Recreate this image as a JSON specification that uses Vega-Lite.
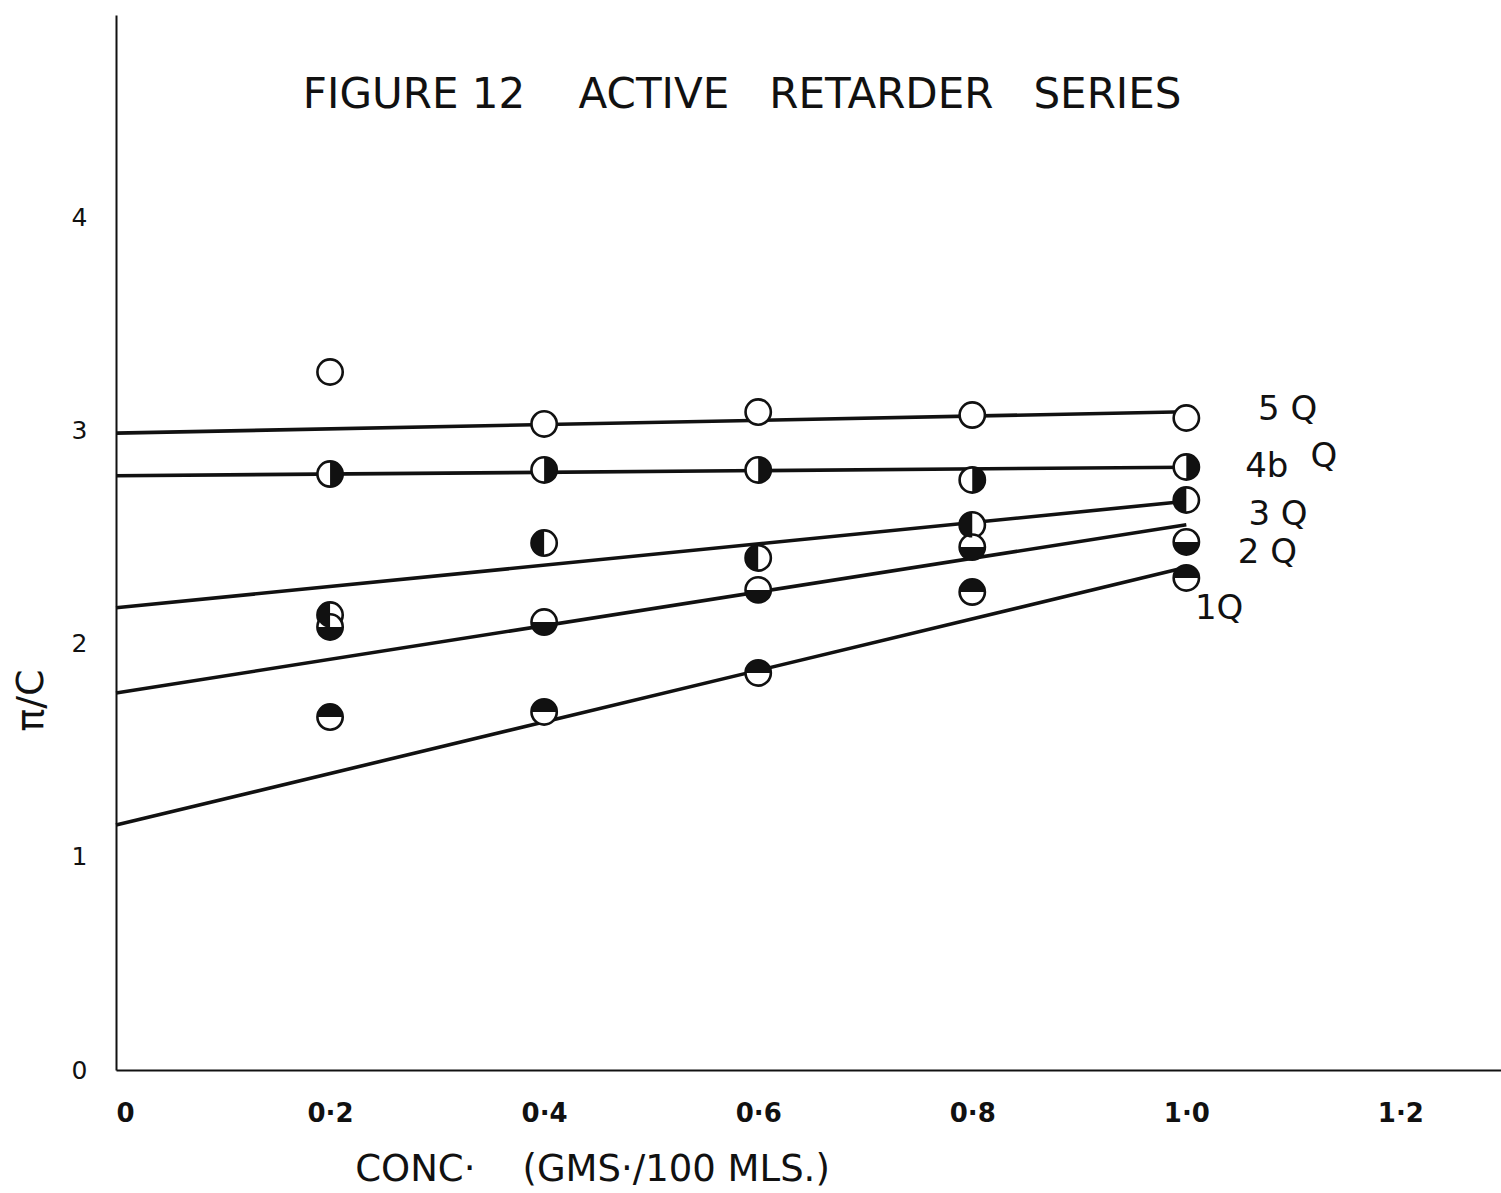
{
  "$schema": "https://vega.github.io/schema/vega-lite/v6.json",
  "autosize": "none",
  "width": 1385,
  "height": 1055,
  "padding": {"left": 116, "top": 15, "right": 0, "bottom": 123},
  "background": "white",
  "config": {
    "view": {"stroke": null},
    "font": "DejaVu Sans",
    "axis": {"grid": false, "ticks": false, "domainColor": "#111", "domainWidth": 2, "labelColor": "#111", "titleColor": "#111", "labelFont": "DejaVu Sans", "titleFont": "DejaVu Sans", "titleFontWeight": "normal"}
  },
  "datasets": {
    "pts": [
      {"series": "5Q", "conc": 0.2, "pc": 3.277},
      {"series": "5Q", "conc": 0.4, "pc": 3.033},
      {"series": "5Q", "conc": 0.6, "pc": 3.089},
      {"series": "5Q", "conc": 0.8, "pc": 3.075},
      {"series": "5Q", "conc": 1.0, "pc": 3.061},
      {"series": "4bQ", "conc": 0.2, "pc": 2.798},
      {"series": "4bQ", "conc": 0.4, "pc": 2.817},
      {"series": "4bQ", "conc": 0.6, "pc": 2.817},
      {"series": "4bQ", "conc": 0.8, "pc": 2.770},
      {"series": "4bQ", "conc": 1.0, "pc": 2.831},
      {"series": "3Q", "conc": 0.2, "pc": 2.136},
      {"series": "3Q", "conc": 0.4, "pc": 2.474},
      {"series": "3Q", "conc": 0.6, "pc": 2.404},
      {"series": "3Q", "conc": 0.8, "pc": 2.559},
      {"series": "3Q", "conc": 1.0, "pc": 2.676},
      {"series": "2Q", "conc": 0.2, "pc": 2.080},
      {"series": "2Q", "conc": 0.4, "pc": 2.103},
      {"series": "2Q", "conc": 0.6, "pc": 2.254},
      {"series": "2Q", "conc": 0.8, "pc": 2.455},
      {"series": "2Q", "conc": 1.0, "pc": 2.479},
      {"series": "1Q", "conc": 0.2, "pc": 1.657},
      {"series": "1Q", "conc": 0.4, "pc": 1.681},
      {"series": "1Q", "conc": 0.6, "pc": 1.864},
      {"series": "1Q", "conc": 0.8, "pc": 2.244},
      {"series": "1Q", "conc": 1.0, "pc": 2.310}
    ],
    "fits": [
      {"series": "5Q", "conc": 0, "pc": 2.99},
      {"series": "5Q", "conc": 1.0, "pc": 3.09},
      {"series": "4bQ", "conc": 0, "pc": 2.79},
      {"series": "4bQ", "conc": 1.0, "pc": 2.83},
      {"series": "3Q", "conc": 0, "pc": 2.17},
      {"series": "3Q", "conc": 1.0, "pc": 2.67},
      {"series": "2Q", "conc": 0, "pc": 1.77},
      {"series": "2Q", "conc": 1.0, "pc": 2.56},
      {"series": "1Q", "conc": 0, "pc": 1.15},
      {"series": "1Q", "conc": 1.0, "pc": 2.36}
    ],
    "labels": [
      {"text": "5 Q", "conc": 1.067, "pc": 3.099},
      {"text": "4b", "conc": 1.055, "pc": 2.831},
      {"text": "Q", "conc": 1.116, "pc": 2.878},
      {"text": "3 Q", "conc": 1.058, "pc": 2.606},
      {"text": "2 Q", "conc": 1.048, "pc": 2.427},
      {"text": "1Q", "conc": 1.008, "pc": 2.164}
    ],
    "heading": [
      {"text": "FIGURE 12\u00a0\u00a0\u00a0 ACTIVE\u00a0\u00a0 RETARDER\u00a0\u00a0 SERIES", "conc": 0.585, "pc": 4.577}
    ]
  },
  "layer": [
    {
      "data": {"name": "fits"},
      "mark": {"type": "line", "color": "#111", "strokeWidth": 3.6},
      "encoding": {
        "x": {
          "field": "conc", "type": "quantitative",
          "scale": {"domain": [0, 1.294], "nice": false, "zero": false},
          "axis": {
            "values": [0, 0.2, 0.4, 0.6, 0.8, 1.0, 1.2],
            "labelExpr": "datum.value == 0 ? '0' : replace(format(datum.value, '.1f'), '.', '·')",
            "labelFontSize": 26,
            "labelFontWeight": "bold",
            "labelPadding": 30,
            "labelBaseline": "top",
            "title": "CONC·\u00a0\u00a0\u00a0 (GMS·/100 MLS.)",
            "titleFontSize": 37,
            "titleX": 476,
            "titleY": 99,
            "titleAlign": "center",
            "titleBaseline": "middle"
          }
        },
        "y": {
          "field": "pc", "type": "quantitative",
          "scale": {"domain": [0, 4.953], "nice": false, "zero": false},
          "axis": {
            "values": [0, 1, 2, 3, 4],
            "format": "d",
            "labelFontSize": 25,
            "labelPadding": 29,
            "title": "π/C",
            "titleFontSize": 38,
            "titleAngle": -90,
            "titleX": -85,
            "titleY": 685,
            "titleAlign": "center",
            "titleBaseline": "middle"
          }
        },
        "detail": {"field": "series", "type": "nominal"}
      }
    },
    {
      "data": {"name": "pts"},
      "mark": {"type": "point", "shape": "circle", "filled": true, "fill": "white", "stroke": "#111", "strokeWidth": 2.6, "size": 640, "opacity": 1},
      "encoding": {
        "x": {"field": "conc", "type": "quantitative"},
        "y": {"field": "pc", "type": "quantitative"}
      }
    },
    {
      "data": {"name": "pts"},
      "transform": [{"filter": "datum.series != '5Q'"}],
      "mark": {"type": "point", "filled": true, "color": "#111", "strokeWidth": 0, "size": 640, "opacity": 1},
      "encoding": {
        "x": {"field": "conc", "type": "quantitative"},
        "y": {"field": "pc", "type": "quantitative"},
        "shape": {
          "field": "series", "type": "nominal",
          "scale": {
            "domain": ["4bQ", "3Q", "2Q", "1Q"],
            "range": [
              "M 0 -1 A 1 1 0 0 1 0 1 Z",
              "M 0 -1 A 1 1 0 0 0 0 1 Z",
              "M -1 0 A 1 1 0 0 0 1 0 Z",
              "M -1 0 A 1 1 0 0 1 1 0 Z"
            ]
          },
          "legend": null
        }
      }
    },
    {
      "data": {"name": "labels"},
      "mark": {"type": "text", "color": "#111", "baseline": "middle", "align": "left", "fontSize": 34},
      "encoding": {
        "x": {"field": "conc", "type": "quantitative"},
        "y": {"field": "pc", "type": "quantitative"},
        "text": {"field": "text"}
      }
    },
    {
      "data": {"name": "heading"},
      "mark": {"type": "text", "color": "#111", "baseline": "middle", "align": "center", "fontSize": 42},
      "encoding": {
        "x": {"field": "conc", "type": "quantitative"},
        "y": {"field": "pc", "type": "quantitative"},
        "text": {"field": "text"}
      }
    }
  ]
}
